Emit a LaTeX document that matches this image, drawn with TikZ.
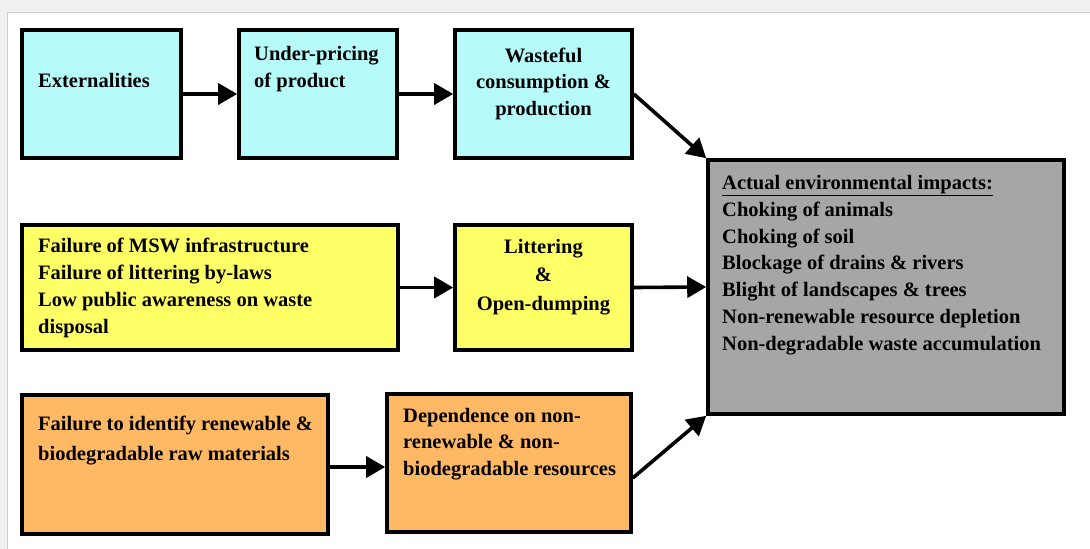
\documentclass[tikz,border=0pt]{standalone}
\usepackage{fontspec}
\setmainfont{Liberation Serif}
\usetikzlibrary{arrows.meta}
\definecolor{cyanbox}{RGB}{182,250,250}
\definecolor{yellowbox}{RGB}{255,255,102}
\definecolor{orangebox}{RGB}{255,184,99}
\definecolor{graybox}{RGB}{166,166,166}
\definecolor{framebg}{RGB}{241,241,241}
\definecolor{frameline}{RGB}{205,205,205}
\begin{document}
\begin{tikzpicture}[x=1pt,y=-1pt,
  box/.style={draw=black,line width=3.6pt,inner sep=0pt},
  lbl/.style={inner sep=0pt,anchor=base west,align=left},
  clbl/.style={inner sep=0pt,anchor=base,align=center},
  arr/.style={line width=3.6pt,-{Triangle[length=19pt,width=21pt]}}
]
\useasboundingbox (0,0) rectangle (1090,549);
\fill[framebg] (0,0) rectangle (1090,549);
\draw[frameline,fill=white,line width=1pt] (7,12) rectangle (1095,555);

\node[box,fill=cyanbox,minimum width=159pt,minimum height=128pt] (ext) at (101.5,94) {};
\node[box,fill=cyanbox,minimum width=158pt,minimum height=128pt] (under) at (318,94) {};
\node[box,fill=cyanbox,minimum width=177pt,minimum height=128pt] (waste) at (543.5,94) {};
\node[box,fill=graybox,minimum width=356pt,minimum height=254pt] (gray) at (886,287) {};
\node[box,fill=yellowbox,minimum width=376pt,minimum height=125pt] (yel1) at (210,287.5) {};
\node[box,fill=yellowbox,minimum width=177pt,minimum height=125pt] (yel2) at (543.5,287.5) {};
\node[box,fill=orangebox,minimum width=306pt,minimum height=139pt] (or1) at (175,464.5) {};
\node[box,fill=orangebox,minimum width=244pt,minimum height=138pt] (or2) at (509,463) {};

\draw[arr] (ext.east) -- (under.west);
\draw[arr] (under.east) -- (waste.west);
\draw[arr] (waste.east) -- (gray.north west);
\draw[arr] (yel1.east) -- (yel2.west);
\draw[arr] (yel2.east) -- (gray.west);
\draw[arr] ([yshift=-2.5pt]or1.east) -- ([yshift=-2.5pt]or1.east -| or2.west);
\draw[arr] ([yshift=-15pt]or2.east) -- (gray.south west);

\begin{scope}[every node/.append style={font=\fontsize{20.5}{26.7}\selectfont\bfseries}]
\node[lbl] (text-ext) at (38,87) {Externalities};
\node[lbl] (text-under) at (254,87) {Under-pricing\\of product};
\node[clbl,font=\fontsize{20.5}{26.5}\selectfont\bfseries] (text-waste) at (543.5,115) {Wasteful\\consumption \&\\production};
\node[lbl] (text-gray) at (722,350) {\underline{Actual environmental impacts:}\\Choking of animals\\Choking of soil\\Blockage of drains \& rivers\\Blight of landscapes \& trees\\Non-renewable resource depletion\\Non-degradable waste accumulation};
\node[lbl] (text-yel1) at (38,333) {Failure of MSW infrastructure\\Failure of littering by-laws\\Low public awareness on waste\\disposal};
\node[clbl,font=\fontsize{20.5}{28.5}\selectfont\bfseries] (text-yel2) at (543.5,310) {Littering\\\&\\Open-dumping};
\node[lbl,font=\fontsize{20.5}{30}\selectfont\bfseries] (text-or1) at (38,460) {Failure to identify renewable \&\\biodegradable raw materials};
\node[lbl,font=\fontsize{20.5}{26.5}\selectfont\bfseries] (text-or2) at (403,475) {Dependence on non-\\renewable \& non-\\biodegradable resources};
\end{scope}
\end{tikzpicture}
\end{document}
